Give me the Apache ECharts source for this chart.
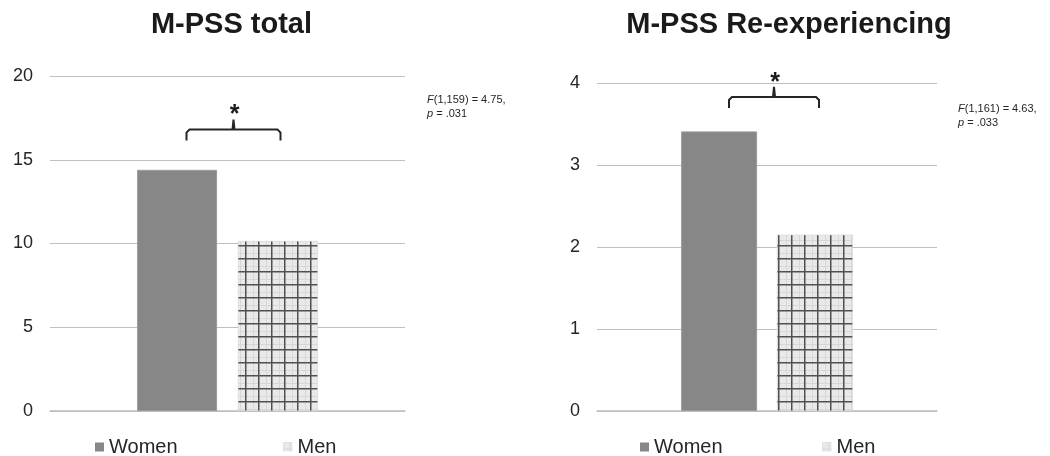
<!DOCTYPE html>
<html>
<head>
<meta charset="utf-8">
<script src="https://cdn.jsdelivr.net/npm/echarts@6/dist/echarts.min.js"></script>
<style>
  html, body { margin: 0; padding: 0; background: #fff; }
  #chart { width: 1050px; height: 456px; }
</style>
</head>
<body>
<div id="chart"></div>
<script>
// Panel titles and group names
const panelTitles = ['M-PSS total', 'M-PSS Re-experiencing'];
const groups = ['Women', 'Men'];

// Mean scores per panel
const womenValues = [14.4, 3.41];
const menValues = [10.15, 2.15];

// Y axis ranges per panel
const yMax = [20, 4];
const yInterval = [5, 1];

// ANOVA results printed beside each panel
const statF = ['(1,159) = 4.75,', '(1,161) = 4.63,'];
const statP = [' = .031', ' = .033'];

const FONT = '"Liberation Sans", Arial, Helvetica, sans-serif';
const TEXT = '#262626';
const GRID_LINE = '#bfbfbf';

// Check pattern for the "Men" bars
function makeCheck() {
  const c = document.createElement('canvas');
  c.width = 13; c.height = 13;
  const g = c.getContext('2d');
  g.fillStyle = '#e9e9e9';
  g.fillRect(0, 0, 13, 13);
  g.fillStyle = 'rgba(215,215,215,1)';
  g.fillRect(6, 0, 1, 13);
  g.fillRect(0, 6, 13, 1);
  g.fillStyle = '#505050';
  g.fillRect(11, 0, 1.5, 13);
  g.fillRect(0, 11, 13, 1.5);
  return c;
}
const checkPattern = { image: makeCheck(), repeat: 'repeat' };

const chart = echarts.init(document.getElementById('chart'), null, { renderer: 'canvas' });

const grids = [
  { left: 50, width: 355, top: 76, height: 335 },
  { left: 597, width: 340, top: 83, height: 328 }
];
const barWidths = [80, 76];

const option = {
  animation: false,
  backgroundColor: '#fff',
  textStyle: { fontFamily: FONT },
  grid: grids,
  xAxis: grids.map((g, i) => ({
    type: 'category',
    gridIndex: i,
    data: [panelTitles[i]],
    axisLine: { show: true, lineStyle: { color: GRID_LINE, width: 1.5 } },
    axisTick: { show: false },
    axisLabel: { show: false }
  })),
  yAxis: grids.map((g, i) => ({
    type: 'value',
    gridIndex: i,
    min: 0,
    max: yMax[i],
    interval: yInterval[i],
    axisLine: { show: false },
    axisTick: { show: false },
    axisLabel: { color: TEXT, fontSize: 18, fontFamily: FONT, margin: 17 },
    splitLine: { show: true, lineStyle: { color: GRID_LINE, width: 1 } }
  })),
  legend: [
    { left: 90, top: 432, itemGap: 106 },
    { left: 635, top: 432, itemGap: 100 }
  ].map(l => ({
    left: l.left,
    top: l.top,
    itemGap: l.itemGap,
    itemWidth: 9,
    itemHeight: 9,
    icon: 'rect',
    data: groups,
    selectedMode: false,
    itemStyle: { borderWidth: 0 },
    textStyle: { color: TEXT, fontSize: 20, fontFamily: FONT }
  })),
  series: []
};

for (let i = 0; i < 2; i++) {
  option.series.push({
    name: groups[0],
    type: 'bar',
    xAxisIndex: i,
    yAxisIndex: i,
    barWidth: barWidths[i],
    barGap: '26%',
    data: [womenValues[i]],
    itemStyle: { color: '#878787', borderColor: '#9a9a9a', borderWidth: 1 }
  });
  option.series.push({
    name: groups[1],
    type: 'bar',
    xAxisIndex: i,
    yAxisIndex: i,
    barWidth: barWidths[i],
    barGap: '26%',
    data: [menValues[i]],
    itemStyle: { color: checkPattern, borderColor: '#d0d0d0', borderWidth: 0.5 }
  });
}

chart.setOption(option);

// Titles, significance brackets and test statistics
const titleShift = [4, 22];
const bracketLevel = [16.8, 3.83];        // bracket height in axis units
const bracketSpan = [[-41, 53], [-38, 52]]; // bracket ends relative to category centre
const statX = [427, 958];
const statY = [107, 116];

const graphics = [];
for (let i = 0; i < 2; i++) {
  const centre = chart.convertToPixel({ gridIndex: i }, [0, bracketLevel[i]]);
  const cx = centre[0];
  const by = centre[1];
  const x1 = cx + bracketSpan[i][0];
  const x2 = cx + bracketSpan[i][1];
  const xm = (x1 + x2) / 2;
  const r = 3;

  graphics.push({
    type: 'text',
    style: {
      text: panelTitles[i],
      x: cx + titleShift[i],
      y: 25,
      align: 'center',
      verticalAlign: 'middle',
      font: 'bold 29px ' + FONT,
      fill: '#1a1a1a'
    }
  });

  graphics.push({
    type: 'polyline',
    shape: { points: [[x1, by + 11], [x1, by + r], [x1 + r, by], [xm - 1, by], [xm, by - 10], [xm + 1, by], [x2 - r, by], [x2, by + r], [x2, by + 11]] },
    style: { stroke: '#262626', lineWidth: 2, fill: null }
  });

  graphics.push({
    type: 'text',
    style: {
      text: '*',
      x: xm + 1,
      y: by - 14,
      align: 'center',
      verticalAlign: 'middle',
      font: 'bold 25px ' + FONT,
      fill: '#1a1a1a'
    }
  });

  graphics.push({
    type: 'text',
    style: {
      text: '{i|F}{n|' + statF[i] + '}\n{i|p}{n|' + statP[i] + '}',
      x: statX[i],
      y: statY[i],
      verticalAlign: 'middle',
      rich: {
        i: { fontStyle: 'italic', fontSize: 11, fontFamily: FONT, fill: '#262626', lineHeight: 14 },
        n: { fontSize: 11, fontFamily: FONT, fill: '#262626', lineHeight: 14 }
      }
    }
  });
}

chart.setOption({ graphic: graphics });
</script>
</body>
</html>
